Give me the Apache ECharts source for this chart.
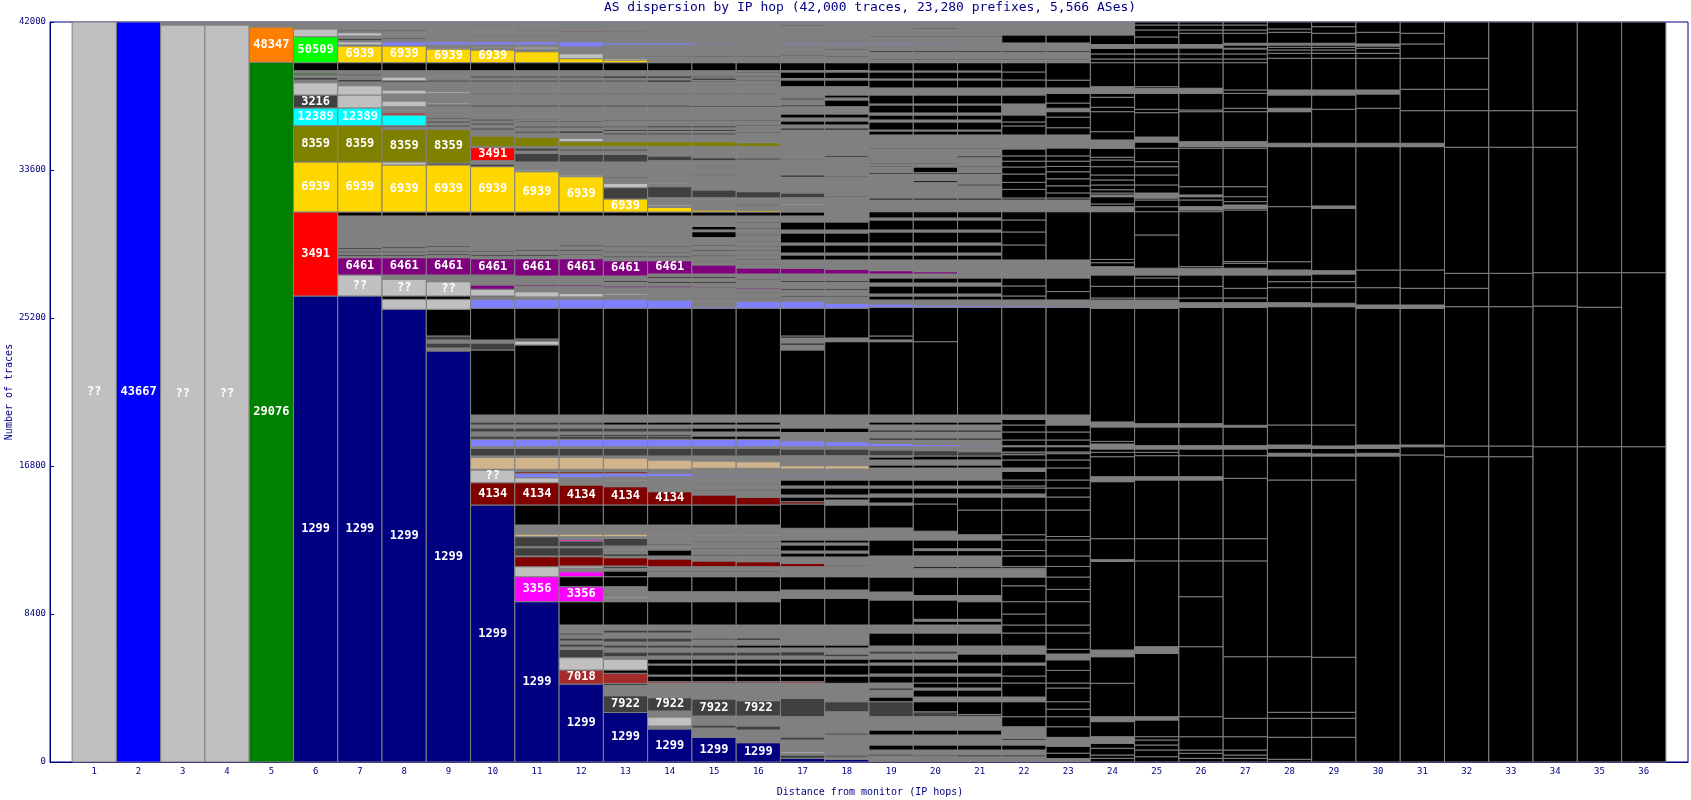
<!DOCTYPE html>
<html><head><meta charset="utf-8">
<script src="https://cdn.jsdelivr.net/npm/echarts@6/dist/echarts.min.js"></script>
<style>html,body{margin:0;padding:0;background:#fff}#c{width:1691px;height:800px}</style>
</head><body><div id="c"></div>
<script>
const palette = {L:'#c0c0c0',B:'#0000ff',G:'#008000',O:'#ff8000',LG:'#00ff00',K:'#000000',D:'#404040',C:'#00ffff',V:'#808000',Y:'#ffd700',R:'#ff0000',N:'#000080',P:'#800080',S:'#8080ff',T:'#d2b48c',M:'#800000',F:'#ff00ff',W:'#a52a2a',A:'#808080'};
const titleText = 'AS dispersion by IP hop (42,000 traces, 23,280 prefixes, 5,566 ASes)';
const xName = 'Distance from monitor (IP hops)';
const yName = 'Number of traces';
// each entry: [cumulative top (traces), colour key, label]
const hop01 = [[42000,'L','??']];
const hop02 = [[42000,'B','43667']];
const hop03 = [[41830,'L','??'],[42000,'A']];
const hop04 = [[41830,'L','??'],[42000,'A']];
const hop05 = [[39715,'G','29076'],[41720,'O','48347'],[42000,'A']];
const hop06 = [[26450,'N','1299'],[31218,'R','3491'],[34056,'Y','6939'],[36117,'V','8359'],[37121,'C','12389'],[37859,'D','3216'],[38557,'L'],[38700,'A'],[38850,'D'],[38950,'A'],[39050,'D'],[39130,'G'],[39238,'A'],[39692,'K'],[41168,'LG','50509'],[41605,'L'],[42000,'A']];
const hop07 = [[26450,'N','1299'],[27642,'L','??'],[28624,'P','6461'],[28700,'A'],[28800,'D'],[28900,'A'],[29000,'D'],[29100,'A'],[29200,'D'],[29762,'A'],[30991,'A'],[31218,'K'],[34056,'Y','6939'],[36117,'V','8359'],[37121,'C','12389'],[37859,'L'],[38387,'L'],[38600,'A'],[38750,'D'],[38950,'A'],[39050,'D'],[39238,'A'],[39692,'K'],[40640,'Y','6939'],[40700,'A'],[40880,'L'],[40941,'A'],[41076,'D'],[41208,'A'],[41395,'L'],[41452,'A'],[41548,'D'],[42000,'A']];
const hop08 = [[25695,'N','1299'],[26263,'L'],[26450,'K'],[27398,'L','??'],[27642,'A'],[28624,'P','6461'],[28700,'A'],[28800,'D'],[28900,'A'],[29000,'D'],[29150,'A'],[29250,'D'],[30991,'A'],[31218,'K'],[33886,'Y','6939'],[34056,'L'],[35912,'V','8359'],[36043,'A'],[36117,'D'],[36724,'C'],[36837,'R'],[36950,'A'],[37008,'L'],[37194,'A'],[37518,'L'],[37916,'A'],[38143,'L'],[38557,'A'],[38670,'D'],[38880,'L'],[39238,'A'],[39692,'K'],[40640,'Y','6939'],[40884,'S'],[41038,'A'],[41134,'D'],[41265,'A'],[41322,'L'],[41452,'A'],[41548,'D'],[42000,'A']];
const hop09 = [[23328,'N','1299'],[23499,'A'],[23782,'D'],[23953,'A'],[24180,'D'],[25695,'K'],[26263,'L'],[26450,'K'],[27262,'L','??'],[27642,'A'],[28624,'P','6461'],[28750,'A'],[28850,'D'],[28950,'A'],[29050,'D'],[29200,'A'],[29300,'D'],[30991,'A'],[31218,'K'],[33886,'Y','6939'],[33998,'D'],[35912,'V','8359'],[36043,'A'],[36157,'D'],[36270,'A'],[36384,'D'],[36497,'A'],[36582,'D'],[37194,'A'],[37291,'D'],[37348,'A'],[37422,'L'],[37955,'A'],[38046,'L'],[38597,'A'],[38710,'D'],[38880,'A'],[38937,'L'],[39238,'A'],[39692,'K'],[40470,'Y','6939'],[40527,'L'],[40698,'A'],[40884,'S'],[41265,'A'],[41293,'L'],[41548,'A'],[41577,'L'],[42000,'A']];
const hop10 = [[14587,'N','1299'],[15853,'M','4134'],[16574,'L','??'],[16614,'A'],[17295,'T'],[17369,'A'],[17806,'D'],[17896,'A'],[18316,'S'],[18504,'D'],[18731,'A'],[18958,'D'],[19128,'A'],[19298,'D'],[19696,'A'],[23385,'K'],[23782,'D'],[23953,'A'],[25752,'K'],[26263,'S'],[26393,'A'],[26450,'D'],[26831,'L'],[27074,'P'],[27585,'A'],[27642,'D'],[28567,'P','6461'],[28700,'A'],[28800,'D'],[28950,'A'],[29050,'D'],[29762,'A'],[30991,'A'],[31218,'K'],[33789,'Y','6939'],[33942,'D'],[34130,'A'],[34868,'R','3491'],[34925,'A'],[35532,'V'],[35872,'A'],[35986,'D'],[36157,'A'],[36270,'D'],[36384,'A'],[36497,'D'],[37178,'A'],[37291,'D'],[37916,'A'],[37973,'P'],[38597,'A'],[38710,'D'],[38823,'A'],[38937,'D'],[39238,'A'],[39692,'K'],[40413,'Y','6939'],[40527,'A'],[40584,'L'],[40698,'A'],[40884,'S'],[41208,'A'],[41265,'D'],[41492,'A'],[41548,'L'],[42000,'A']];
const hop11 = [[9099,'N','1299'],[10518,'F','3356'],[11085,'L'],[11653,'M'],[11693,'A'],[12164,'D'],[12220,'A'],[12788,'D'],[12941,'T'],[13452,'A'],[14587,'K'],[15853,'M','4134'],[16137,'L'],[16387,'S'],[16478,'M'],[16614,'A'],[17295,'T'],[17369,'A'],[17806,'D'],[17896,'A'],[18316,'S'],[18504,'D'],[18731,'A'],[18958,'D'],[19128,'A'],[19298,'D'],[19696,'A'],[23669,'K'],[23896,'L'],[24009,'D'],[25752,'K'],[26263,'S'],[26393,'A'],[26694,'L'],[27018,'A'],[27103,'P'],[27585,'A'],[28567,'P','6461'],[28700,'A'],[28800,'D'],[29000,'A'],[29100,'D'],[29762,'A'],[30991,'A'],[31218,'K'],[33505,'Y','6939'],[33601,'L'],[34056,'A'],[34549,'D'],[34680,'A'],[34850,'D'],[34925,'A'],[35458,'V'],[35700,'A'],[35815,'D'],[35990,'A'],[36100,'D'],[36300,'A'],[36384,'D'],[36440,'A'],[36497,'D'],[37178,'A'],[37291,'D'],[37916,'A'],[37973,'P'],[38597,'A'],[38710,'D'],[38823,'A'],[38937,'D'],[39238,'A'],[39692,'K'],[40317,'Y'],[40470,'A'],[40584,'L'],[40698,'A'],[40884,'S'],[41208,'A'],[41265,'D'],[41492,'A'],[41548,'D'],[42000,'A']];
const hop12 = [[4427,'N','1299'],[5222,'W','7018'],[5920,'L'],[6397,'D'],[6527,'A'],[6698,'D'],[6868,'A'],[7038,'D'],[7209,'A'],[7322,'D'],[7776,'A'],[9099,'K'],[9950,'F','3356'],[10518,'K'],[10802,'F'],[11011,'A'],[11125,'L'],[11653,'M'],[11693,'A'],[12164,'D'],[12220,'A'],[12543,'D'],[12640,'F'],[12788,'A'],[12941,'T'],[13452,'A'],[14587,'K'],[15722,'M','4134'],[16137,'A'],[16387,'S'],[16478,'M'],[16614,'A'],[17295,'T'],[17369,'A'],[17806,'D'],[17896,'A'],[18316,'S'],[18504,'D'],[18600,'K'],[18731,'A'],[18958,'D'],[19128,'A'],[19298,'D'],[19696,'A'],[25752,'K'],[26263,'S'],[26393,'A'],[26592,'L'],[27018,'A'],[27103,'P'],[27585,'A'],[28567,'P','6461'],[28777,'A'],[28834,'K'],[29000,'A'],[29100,'D'],[29250,'A'],[29350,'D'],[29762,'A'],[30991,'A'],[31218,'K'],[33221,'Y','6939'],[33317,'L'],[34056,'A'],[34493,'D'],[34680,'A'],[34794,'D'],[34925,'A'],[35209,'V'],[35401,'L'],[35700,'A'],[35815,'K'],[35990,'A'],[36100,'D'],[36300,'A'],[36384,'D'],[36497,'A'],[37178,'A'],[37291,'D'],[37916,'A'],[37973,'P'],[38597,'A'],[38710,'D'],[38823,'A'],[38937,'D'],[39238,'A'],[39692,'K'],[39919,'Y'],[40203,'L'],[40584,'A'],[40884,'S'],[41435,'A'],[41492,'M'],[42000,'A']];
const hop13 = [[2810,'N','1299'],[3763,'D','7922'],[3803,'L'],[4371,'A'],[4456,'K'],[5035,'W'],[5222,'K'],[5829,'L'],[5977,'A'],[6244,'D'],[6471,'A'],[6641,'D'],[6811,'A'],[7038,'D'],[7322,'A'],[7492,'D'],[7776,'A'],[9099,'K'],[9309,'A'],[9382,'L'],[9950,'A'],[10518,'K'],[10841,'K'],[11011,'A'],[11097,'K'],[11125,'A'],[11596,'M'],[11693,'A'],[11806,'K'],[12033,'A'],[12090,'L'],[12260,'A'],[12697,'D'],[12788,'A'],[12941,'T'],[13452,'A'],[14587,'K'],[15626,'M','4134'],[15949,'A'],[16006,'L'],[16177,'A'],[16387,'S'],[16478,'M'],[16614,'A'],[17255,'T'],[17369,'A'],[17806,'D'],[17896,'A'],[18316,'S'],[18504,'D'],[18600,'K'],[18731,'A'],[18958,'D'],[19128,'A'],[19298,'K'],[19696,'A'],[25752,'K'],[26263,'S'],[26507,'A'],[26603,'L'],[26921,'A'],[27018,'P'],[27245,'A'],[27330,'K'],[27585,'A'],[28453,'P','6461'],[28650,'A'],[28720,'K'],[28900,'A'],[29000,'D'],[29200,'A'],[29280,'K'],[29762,'A'],[30991,'A'],[31218,'K'],[31956,'Y','6939'],[32597,'D'],[32847,'L'],[33148,'A'],[33205,'K'],[34056,'A'],[34493,'D'],[34680,'A'],[34794,'D'],[34925,'A'],[35209,'V'],[35600,'A'],[35700,'K'],[35815,'A'],[35900,'K'],[36000,'A'],[36100,'D'],[36384,'A'],[36440,'K'],[37178,'A'],[37291,'D'],[37916,'A'],[37973,'P'],[38597,'A'],[38710,'D'],[38823,'A'],[38937,'K'],[39238,'A'],[39692,'K'],[39845,'Y'],[39942,'L'],[40033,'A'],[40090,'D'],[40698,'A'],[40828,'S'],[41452,'A'],[41509,'M'],[42000,'A']];
const hop14 = [[1873,'N','1299'],[2043,'A'],[2554,'L'],[2895,'A'],[3650,'D','7922'],[4467,'A'],[4558,'W'],[4881,'K'],[4938,'A'],[5506,'K'],[5562,'A'],[5846,'K'],[6017,'A'],[6244,'D'],[6471,'A'],[6641,'D'],[6811,'A'],[7038,'D'],[7322,'A'],[7492,'D'],[7776,'A'],[9099,'K'],[9666,'A'],[10518,'K'],[10784,'A'],[10841,'K'],[11085,'A'],[11522,'M'],[11693,'A'],[12033,'K'],[12146,'A'],[12203,'L'],[12316,'A'],[12374,'K'],[12884,'A'],[12941,'T'],[13452,'A'],[14587,'K'],[15342,'M','4134'],[16194,'A'],[16387,'S'],[16478,'A'],[16518,'M'],[16614,'A'],[17142,'T'],[17369,'A'],[17806,'D'],[17896,'A'],[18316,'S'],[18504,'D'],[18600,'K'],[18731,'A'],[18958,'D'],[19128,'A'],[19298,'K'],[19696,'A'],[25752,'K'],[26223,'S'],[26564,'A'],[26921,'A'],[27018,'P'],[27188,'A'],[27273,'K'],[27472,'A'],[27557,'K'],[27699,'A'],[28453,'P','6461'],[28650,'A'],[28720,'K'],[28900,'A'],[28960,'K'],[29200,'A'],[29280,'K'],[29762,'A'],[30991,'A'],[31218,'K'],[31485,'Y'],[31558,'A'],[31655,'L'],[32029,'A'],[32654,'D'],[32824,'A'],[32904,'L'],[34130,'A'],[34397,'D'],[34925,'A'],[35209,'V'],[35600,'A'],[35700,'K'],[35815,'A'],[35900,'K'],[36000,'A'],[36100,'K'],[36384,'A'],[36440,'K'],[37178,'A'],[37291,'D'],[37916,'A'],[37973,'P'],[38597,'A'],[38710,'K'],[38823,'A'],[38937,'K'],[39238,'A'],[39692,'K'],[40016,'A'],[40073,'D'],[40698,'A'],[40828,'S'],[42000,'A']];
const hop15 = [[1391,'N','1299'],[1930,'A'],[2100,'D'],[2611,'A'],[3576,'D','7922'],[4484,'A'],[4558,'M'],[4881,'K'],[4938,'A'],[5506,'K'],[5562,'A'],[5846,'K'],[6017,'A'],[6244,'D'],[6471,'A'],[6641,'D'],[6925,'A'],[7038,'D'],[7776,'A'],[9099,'K'],[9666,'A'],[10518,'K'],[10784,'A'],[10841,'K'],[11085,'A'],[11409,'M'],[11700,'A'],[11780,'K'],[12100,'A'],[12160,'K'],[12500,'A'],[12560,'K'],[12827,'A'],[12884,'T'],[13452,'A'],[14587,'K'],[15155,'M'],[15400,'A'],[15460,'K'],[15800,'A'],[15860,'K'],[16194,'A'],[16290,'S'],[16670,'A'],[17085,'T'],[17369,'A'],[17806,'D'],[17896,'A'],[18316,'S'],[18504,'K'],[18731,'A'],[18958,'K'],[19128,'A'],[19298,'K'],[19696,'A'],[25752,'K'],[25843,'S'],[26300,'A'],[26360,'K'],[26904,'A'],[26961,'P'],[27188,'A'],[27273,'K'],[27472,'A'],[27557,'K'],[27699,'A'],[28210,'P'],[28400,'A'],[28470,'K'],[28700,'A'],[28770,'K'],[29000,'A'],[29070,'K'],[29300,'A'],[29370,'K'],[29762,'A'],[30100,'K'],[30200,'A'],[30400,'K'],[30500,'A'],[30991,'A'],[31218,'K'],[31332,'Y'],[31899,'A'],[31956,'L'],[32029,'A'],[32467,'D'],[33300,'A'],[33360,'K'],[33800,'A'],[33860,'K'],[34130,'A'],[34300,'D'],[34925,'A'],[35209,'V'],[35600,'A'],[35700,'K'],[35815,'A'],[35900,'K'],[36000,'A'],[36100,'K'],[36384,'A'],[36440,'K'],[37178,'A'],[37250,'K'],[37916,'A'],[37973,'P'],[38597,'A'],[38650,'K'],[38710,'A'],[38823,'K'],[38880,'A'],[38937,'K'],[39238,'A'],[39692,'K'],[40016,'A'],[40073,'K'],[40698,'A'],[40790,'S'],[42000,'A']];
const hop16 = [[1095,'N','1299'],[1816,'A'],[2043,'D'],[2611,'A'],[3479,'D','7922'],[4484,'A'],[4558,'M'],[4881,'K'],[4938,'A'],[5506,'K'],[5562,'A'],[5846,'K'],[6017,'A'],[6244,'D'],[6471,'A'],[6641,'K'],[6925,'A'],[7038,'K'],[7776,'A'],[9099,'K'],[9666,'A'],[10518,'K'],[10784,'A'],[10841,'K'],[11085,'A'],[11369,'M'],[11700,'A'],[11780,'K'],[12100,'A'],[12160,'K'],[12500,'A'],[12560,'K'],[12827,'A'],[12884,'T'],[13452,'A'],[14587,'K'],[15024,'M'],[15400,'A'],[15460,'K'],[15800,'A'],[15860,'K'],[16194,'A'],[16290,'S'],[16670,'A'],[17045,'T'],[17369,'A'],[17806,'D'],[17896,'A'],[18316,'S'],[18504,'K'],[18731,'A'],[18958,'K'],[19128,'A'],[19298,'K'],[19696,'A'],[25752,'K'],[26137,'S'],[26300,'A'],[26360,'K'],[26600,'A'],[26660,'K'],[26850,'A'],[26922,'P'],[27100,'A'],[27160,'K'],[27350,'A'],[27410,'K'],[27699,'A'],[28039,'P'],[28250,'A'],[28310,'K'],[28500,'A'],[28560,'K'],[28750,'A'],[28810,'K'],[29000,'A'],[29060,'K'],[29250,'A'],[29310,'K'],[29550,'A'],[29610,'K'],[29900,'A'],[29960,'K'],[30250,'A'],[30310,'K'],[30600,'A'],[30660,'K'],[30991,'A'],[31218,'K'],[31303,'Y'],[31600,'A'],[31660,'K'],[31956,'A'],[32012,'L'],[32371,'D'],[33000,'A'],[33060,'K'],[33400,'A'],[33460,'K'],[33800,'A'],[33860,'K'],[34170,'A'],[34283,'D'],[34925,'A'],[35152,'V'],[35209,'L'],[35500,'A'],[35560,'K'],[35700,'A'],[35760,'K'],[35900,'A'],[35960,'K'],[36100,'A'],[36160,'K'],[36384,'A'],[36440,'K'],[37178,'A'],[37250,'K'],[37916,'A'],[37973,'P'],[38400,'A'],[38460,'K'],[38650,'A'],[38710,'K'],[38880,'A'],[38937,'K'],[39100,'A'],[39160,'K'],[39238,'A'],[39692,'K'],[40016,'A'],[40073,'K'],[40720,'A'],[40783,'S'],[42000,'A']];
const hop17 = [[210,'N'],[397,'D'],[494,'A'],[585,'L'],[1249,'A'],[1419,'D'],[1589,'A'],[2571,'A'],[3616,'D'],[4467,'A'],[4558,'W'],[4881,'K'],[4938,'A'],[5506,'K'],[5562,'A'],[5846,'K'],[6017,'A'],[6261,'D'],[6471,'A'],[6641,'K'],[7021,'A'],[7776,'A'],[9292,'K'],[9763,'A'],[10518,'K'],[11085,'A'],[11278,'M'],[11636,'A'],[11863,'K'],[11976,'A'],[12317,'K'],[12430,'A'],[12601,'K'],[13265,'A'],[14644,'K'],[14775,'M'],[15041,'K'],[15155,'A'],[15552,'K'],[15666,'A'],[16006,'K'],[16194,'A'],[16290,'S'],[16631,'A'],[16818,'T'],[17386,'A'],[17766,'D'],[17896,'A'],[18237,'S'],[18700,'A'],[18958,'K'],[19696,'A'],[23385,'K'],[23669,'A'],[23782,'K'],[24066,'A'],[24180,'K'],[25752,'K'],[26166,'S'],[26400,'A'],[26480,'K'],[26791,'A'],[26870,'K'],[27245,'A'],[27330,'K'],[27699,'A'],[28022,'P'],[28493,'A'],[28777,'K'],[28890,'A'],[29345,'K'],[29459,'A'],[30026,'K'],[30196,'A'],[30651,'K'],[30991,'A'],[31218,'K'],[31587,'A'],[31672,'L'],[32029,'A'],[32296,'D'],[33205,'A'],[33317,'K'],[34170,'A'],[34226,'D'],[34982,'A'],[35050,'L'],[35872,'A'],[35986,'K'],[36157,'A'],[36384,'K'],[36554,'A'],[36781,'K'],[37194,'A'],[37291,'K'],[37575,'A'],[37689,'D'],[38330,'A'],[38710,'K'],[38795,'A'],[39164,'K'],[39238,'A'],[39692,'K'],[40073,'A'],[40129,'K'],[40698,'A'],[40794,'S'],[41776,'A'],[41832,'K'],[42000,'A']];
const hop18 = [[153,'N'],[284,'A'],[397,'D'],[1533,'A'],[1646,'D'],[2100,'A'],[2855,'A'],[3423,'D'],[4467,'A'],[4881,'K'],[4938,'A'],[5506,'K'],[5562,'A'],[5846,'K'],[5977,'A'],[6130,'D'],[6471,'A'],[6641,'K'],[7776,'A'],[9292,'K'],[9763,'A'],[10518,'K'],[11125,'A'],[11182,'M'],[11636,'A'],[11863,'K'],[11976,'A'],[12317,'K'],[12430,'A'],[12601,'K'],[13265,'A'],[14587,'K'],[14871,'A'],[15041,'K'],[15155,'A'],[15552,'K'],[15666,'A'],[16006,'K'],[16194,'A'],[16290,'S'],[16631,'A'],[16818,'T'],[17386,'A'],[17766,'D'],[17896,'A'],[18180,'S'],[18700,'A'],[18958,'K'],[19696,'A'],[23857,'K'],[24066,'A'],[25752,'K'],[26036,'S'],[26400,'A'],[26480,'K'],[26791,'A'],[26870,'K'],[27245,'A'],[27330,'K'],[27699,'A'],[27965,'P'],[28493,'A'],[28777,'K'],[28890,'A'],[29345,'K'],[29459,'A'],[30026,'K'],[30196,'A'],[30651,'K'],[31558,'A'],[31587,'L'],[32050,'A'],[32126,'D'],[33221,'A'],[33300,'K'],[34339,'A'],[34420,'K'],[35872,'A'],[35986,'K'],[36157,'A'],[36384,'K'],[36554,'A'],[36781,'K'],[37194,'A'],[37575,'K'],[37689,'A'],[37859,'K'],[38330,'A'],[38710,'K'],[38795,'A'],[39164,'K'],[39249,'A'],[39692,'K'],[40016,'A'],[40073,'K'],[40413,'A'],[40470,'K'],[40698,'A'],[40794,'S'],[40953,'A'],[41010,'K'],[42000,'A']];
const hop19 = [[341,'A'],[454,'D'],[681,'A'],[965,'K'],[1533,'A'],[1816,'K'],[2571,'A'],[3423,'D'],[3689,'K'],[4087,'A'],[4200,'K'],[4484,'A'],[4881,'K'],[4995,'A'],[5506,'K'],[5619,'A'],[5846,'K'],[6130,'A'],[6300,'D'],[6584,'A'],[7322,'K'],[7776,'A'],[9195,'K'],[9649,'A'],[10500,'K'],[11693,'A'],[12601,'K'],[13282,'A'],[14587,'K'],[14701,'A'],[15041,'K'],[15212,'A'],[15552,'K'],[15666,'A'],[16006,'K'],[16687,'A'],[16858,'K'],[17142,'A'],[17312,'K'],[17386,'A'],[17709,'D'],[17896,'A'],[18089,'S'],[18277,'A'],[18390,'K'],[18731,'A'],[18844,'K'],[19128,'A'],[19298,'K'],[19696,'A'],[23857,'K'],[23953,'A'],[24180,'K'],[25809,'K'],[25996,'S'],[26223,'A'],[26450,'K'],[26564,'A'],[27018,'K'],[27188,'A'],[27472,'K'],[27699,'A'],[27887,'P'],[28493,'A'],[28777,'K'],[28890,'A'],[29345,'K'],[29459,'A'],[30083,'K'],[30196,'A'],[30764,'K'],[30878,'A'],[31235,'K'],[31899,'A'],[32012,'K'],[33374,'A'],[33460,'K'],[33772,'A'],[33829,'K'],[33942,'A'],[33998,'K'],[34794,'A'],[34850,'K'],[35589,'A'],[35816,'K'],[35872,'A'],[36327,'K'],[36440,'A'],[36724,'K'],[36837,'A'],[37291,'K'],[37348,'A'],[37859,'K'],[38257,'A'],[38710,'K'],[38767,'A'],[39164,'K'],[39220,'A'],[39692,'K'],[39845,'A'],[39902,'K'],[40300,'A'],[40385,'K'],[40698,'A'],[40794,'S'],[41151,'A'],[41208,'K'],[42000,'A']];
const hop20 = [[300,'A'],[400,'D'],[681,'A'],[965,'K'],[1533,'A'],[1816,'K'],[2571,'A'],[2850,'D'],[3423,'K'],[3689,'A'],[4087,'K'],[4200,'A'],[4484,'K'],[4881,'K'],[4995,'A'],[5506,'K'],[5619,'A'],[5846,'K'],[6130,'A'],[6300,'D'],[6584,'A'],[7322,'K'],[7776,'A'],[8000,'K'],[8100,'A'],[9195,'K'],[9450,'A'],[10500,'K'],[11000,'A'],[11100,'K'],[11693,'A'],[12000,'K'],[12100,'A'],[12601,'K'],[13100,'A'],[14644,'K'],[15041,'K'],[15212,'A'],[15552,'K'],[15666,'A'],[16006,'K'],[16687,'A'],[16858,'K'],[17142,'A'],[17369,'K'],[17670,'D'],[17896,'A'],[18032,'S'],[18277,'A'],[18390,'K'],[18731,'A'],[18844,'K'],[19128,'A'],[19298,'K'],[19696,'A'],[23857,'K'],[25809,'K'],[25938,'S'],[26223,'A'],[26450,'K'],[26564,'A'],[27018,'K'],[27188,'A'],[27472,'K'],[27699,'A'],[27830,'P'],[28493,'A'],[28777,'K'],[28890,'A'],[29345,'K'],[29459,'A'],[30083,'K'],[30196,'A'],[30764,'K'],[30878,'A'],[31235,'K'],[31899,'A'],[32012,'K'],[32900,'A'],[33000,'K'],[33374,'A'],[33460,'K'],[33772,'K'],[33942,'A'],[33998,'K'],[34794,'A'],[34850,'K'],[35589,'A'],[35816,'K'],[35872,'A'],[36327,'K'],[36440,'A'],[36724,'K'],[36837,'A'],[37291,'K'],[37348,'A'],[37859,'K'],[38257,'A'],[38710,'K'],[38767,'A'],[39164,'K'],[39220,'A'],[39692,'K'],[39845,'A'],[39902,'K'],[40300,'A'],[40385,'K'],[40698,'A'],[40760,'S'],[41151,'A'],[41208,'K'],[41600,'A'],[41660,'K'],[42000,'A']];
const hop21 = [[300,'A'],[400,'K'],[681,'A'],[965,'K'],[1533,'A'],[1816,'K'],[2571,'A'],[2700,'D'],[3423,'K'],[3689,'A'],[4087,'K'],[4200,'A'],[4484,'K'],[4881,'K'],[4995,'A'],[5506,'K'],[5619,'A'],[6130,'K'],[6584,'A'],[7322,'K'],[7776,'A'],[8000,'K'],[8100,'A'],[9100,'K'],[9450,'A'],[10500,'K'],[11000,'A'],[11100,'K'],[11693,'A'],[12000,'K'],[12100,'A'],[12601,'K'],[12900,'A'],[14300,'K'],[15041,'K'],[15212,'A'],[15552,'K'],[15666,'A'],[16006,'K'],[16687,'A'],[16858,'K'],[17142,'A'],[17369,'K'],[17614,'D'],[17896,'A'],[17975,'S'],[18277,'A'],[18390,'K'],[18731,'A'],[18844,'K'],[19128,'A'],[19298,'K'],[19696,'A'],[25809,'K'],[25910,'S'],[26223,'A'],[26450,'K'],[26564,'A'],[27018,'K'],[27188,'A'],[27472,'K'],[27887,'A'],[28493,'A'],[28777,'K'],[28890,'A'],[29345,'K'],[29459,'A'],[30083,'K'],[30196,'A'],[30764,'K'],[30878,'A'],[31235,'K'],[31899,'A'],[32012,'K'],[32700,'A'],[32800,'K'],[33374,'A'],[33460,'K'],[33772,'A'],[33829,'K'],[34300,'A'],[34400,'K'],[34794,'A'],[34850,'K'],[35589,'A'],[35816,'K'],[35872,'A'],[36327,'K'],[36440,'A'],[36724,'K'],[36837,'A'],[37291,'K'],[37348,'A'],[37859,'K'],[38257,'A'],[38710,'K'],[38767,'A'],[39164,'K'],[39220,'A'],[39692,'K'],[39845,'A'],[39902,'K'],[40300,'A'],[40385,'K'],[40794,'A'],[41151,'A'],[41208,'K'],[42000,'A']];
const hop22 = [[300,'A'],[400,'K'],[681,'A'],[965,'K'],[1250,'A'],[1350,'K'],[2000,'A'],[2571,'K'],[3423,'K'],[3689,'A'],[4484,'K'],[4881,'K'],[5506,'K'],[5619,'A'],[6130,'K'],[6584,'A'],[7322,'K'],[7776,'K'],[8400,'K'],[9100,'K'],[10000,'K'],[10500,'K'],[11000,'A'],[11100,'K'],[11693,'K'],[12000,'K'],[12601,'K'],[12900,'K'],[14300,'K'],[15041,'K'],[15212,'A'],[15552,'K'],[15666,'K'],[16006,'K'],[16500,'K'],[16687,'A'],[17142,'K'],[17442,'K'],[17596,'D'],[17896,'K'],[17950,'S'],[18277,'K'],[18731,'K'],[19128,'K'],[19450,'K'],[19696,'A'],[25809,'K'],[25900,'S'],[26223,'A'],[26450,'K'],[27018,'K'],[27472,'K'],[27887,'A'],[28493,'A'],[29345,'K'],[30083,'K'],[30764,'K'],[31235,'K'],[31899,'A'],[32012,'K'],[32500,'K'],[32900,'K'],[33374,'K'],[33772,'K'],[34100,'K'],[34400,'K'],[34794,'K'],[34900,'A'],[35589,'A'],[36100,'K'],[36327,'K'],[36724,'K'],[37100,'A'],[37348,'A'],[37859,'K'],[38257,'A'],[38710,'K'],[39164,'K'],[39692,'K'],[39845,'A'],[39902,'K'],[40300,'A'],[40385,'K'],[40811,'A'],[41265,'K'],[41600,'A'],[42000,'A']];
const hop23 = [[200,'A'],[500,'K'],[900,'K'],[1400,'A'],[2000,'K'],[2571,'K'],[3000,'K'],[3423,'K'],[4200,'K'],[4484,'K'],[5200,'K'],[5800,'K'],[6130,'A'],[6400,'K'],[7322,'K'],[7776,'K'],[9100,'K'],[9800,'K'],[10500,'K'],[11100,'K'],[11693,'K'],[12601,'K'],[12800,'K'],[14300,'K'],[15041,'K'],[15552,'K'],[16006,'K'],[16687,'K'],[17142,'K'],[17500,'K'],[17600,'D'],[17896,'K'],[17950,'S'],[18277,'K'],[18731,'K'],[19128,'K'],[19300,'A'],[19696,'A'],[25809,'K'],[25880,'S'],[26223,'A'],[26700,'K'],[27472,'K'],[27700,'A'],[28493,'A'],[31235,'K'],[31899,'A'],[32012,'K'],[32300,'K'],[32700,'K'],[33100,'K'],[33500,'K'],[33800,'K'],[34100,'K'],[34400,'K'],[34850,'K'],[35589,'A'],[36000,'K'],[36600,'K'],[36911,'K'],[37103,'A'],[37400,'K'],[37954,'K'],[38257,'A'],[38700,'K'],[39692,'K'],[39845,'A'],[39902,'K'],[40300,'A'],[40385,'K'],[40811,'A'],[41265,'K'],[41600,'A'],[42000,'A']];
const hop24 = [[210,'K'],[397,'K'],[778,'K'],[1060,'K'],[1436,'A'],[2292,'K'],[2571,'A'],[4467,'K'],[5977,'K'],[6357,'A'],[11390,'K'],[11485,'A'],[12677,'K'],[15911,'K'],[16195,'A'],[17329,'K'],[17577,'K'],[17766,'K'],[18050,'A'],[18197,'K'],[19015,'K'],[19300,'A'],[25752,'K'],[26223,'A'],[26336,'K'],[26999,'K'],[27642,'K'],[28113,'A'],[28340,'K'],[28524,'K'],[31235,'K'],[31519,'A'],[31672,'K'],[32086,'K'],[32183,'A'],[32292,'K'],[32480,'K'],[32751,'K'],[33034,'K'],[33318,'K'],[33789,'K'],[34170,'K'],[34323,'K'],[34834,'K'],[35306,'A'],[35776,'K'],[36911,'K'],[37161,'K'],[37728,'K'],[37954,'K'],[38330,'A'],[39692,'K'],[39902,'K'],[40186,'K'],[40510,'K'],[40720,'A'],[41265,'K'],[41548,'A'],[41832,'A'],[42000,'A']];
const hop25 = [[301,'K'],[681,'K'],[965,'K'],[1249,'K'],[1436,'K'],[2384,'K'],[2571,'A'],[6165,'K'],[6544,'A'],[11415,'K'],[12677,'K'],[16006,'K'],[16195,'A'],[17386,'K'],[17577,'K'],[17766,'K'],[17955,'A'],[19015,'K'],[19204,'A'],[25752,'K'],[26223,'A'],[26336,'K'],[26999,'K'],[27472,'K'],[27642,'K'],[28022,'A'],[29913,'K'],[31235,'K'],[31519,'K'],[31899,'K'],[32008,'K'],[32292,'A'],[32751,'K'],[33318,'K'],[33789,'K'],[34073,'K'],[34834,'K'],[35186,'K'],[35470,'A'],[36854,'K'],[37046,'K'],[37954,'K'],[38239,'A'],[38330,'K'],[39692,'K'],[39902,'K'],[40186,'K'],[40527,'K'],[40720,'A'],[41151,'K'],[41548,'K'],[41832,'K'],[42000,'K']];
const hop26 = [[210,'K'],[494,'K'],[681,'K'],[1436,'K'],[2571,'K'],[6544,'K'],[9382,'K'],[11415,'K'],[12677,'K'],[16006,'K'],[16195,'A'],[17386,'K'],[17766,'K'],[17955,'A'],[19015,'K'],[19204,'A'],[25809,'K'],[26069,'A'],[26336,'K'],[26999,'K'],[27642,'K'],[28022,'A'],[28117,'K'],[31235,'K'],[31332,'K'],[31519,'A'],[31899,'K'],[32086,'K'],[32183,'A'],[32654,'K'],[34834,'K'],[34925,'K'],[35209,'A'],[36911,'K'],[37007,'K'],[37954,'K'],[38239,'A'],[39692,'K'],[39902,'K'],[40186,'K'],[40527,'K'],[40720,'A'],[41360,'K'],[41548,'K'],[41832,'K'],[42000,'K']];
const hop27 = [[210,'K'],[397,'K'],[681,'K'],[1436,'K'],[2480,'K'],[5977,'K'],[11415,'K'],[12677,'K'],[16101,'K'],[17386,'K'],[17766,'K'],[17955,'A'],[19015,'K'],[19109,'A'],[25809,'K'],[26069,'A'],[26336,'K'],[26886,'K'],[27642,'K'],[28022,'A'],[28306,'K'],[28400,'K'],[31332,'K'],[31427,'K'],[31615,'A'],[31805,'K'],[32088,'K'],[32654,'K'],[34834,'K'],[34925,'K'],[35209,'A'],[36911,'K'],[37103,'K'],[37954,'K'],[38143,'K'],[39692,'K'],[39902,'K'],[40186,'K'],[40470,'K'],[40510,'K'],[40698,'K'],[40794,'A'],[41360,'K'],[41548,'K'],[41832,'K'],[42000,'K']];
const hop28 = [[153,'K'],[1402,'K'],[2480,'K'],[2821,'K'],[5977,'K'],[16006,'K'],[17369,'K'],[17522,'A'],[17806,'K'],[17993,'A'],[19128,'K'],[25843,'K'],[26069,'A'],[26922,'K'],[27262,'K'],[27642,'K'],[27926,'A'],[28397,'K'],[31521,'K'],[34925,'K'],[35118,'A'],[36911,'K'],[37103,'A'],[37859,'K'],[38143,'A'],[39942,'K'],[40225,'K'],[40413,'K'],[40566,'K'],[40698,'K'],[40794,'A'],[41417,'K'],[41605,'K'],[42000,'K']];
const hop29 = [[1402,'K'],[2480,'K'],[2821,'K'],[5943,'K'],[16006,'K'],[17369,'K'],[17482,'A'],[17806,'K'],[17936,'A'],[19128,'K'],[25843,'K'],[26036,'A'],[26922,'K'],[27262,'K'],[27699,'K'],[27887,'A'],[31427,'K'],[31558,'A'],[34925,'K'],[35118,'A'],[37046,'K'],[37859,'K'],[38143,'A'],[39942,'K'],[40225,'K'],[40413,'K'],[40566,'K'],[40698,'K'],[40794,'A'],[41360,'K'],[41735,'K'],[42000,'K']];
const hop30 = [[17369,'K'],[17522,'A'],[17806,'K'],[17993,'A'],[25752,'K'],[25938,'A'],[26922,'K'],[27926,'K'],[34925,'K'],[35118,'A'],[37103,'K'],[37916,'K'],[38143,'A'],[39942,'K'],[40225,'K'],[40509,'K'],[40640,'K'],[40754,'A'],[41417,'K'],[42000,'K']];
const hop31 = [[17425,'K'],[17896,'K'],[17993,'A'],[25752,'K'],[25938,'A'],[26886,'K'],[27926,'K'],[34925,'K'],[35118,'A'],[36968,'K'],[38183,'K'],[39942,'K'],[40754,'K'],[41360,'K'],[42000,'K']];
const hop32 = [[17329,'K'],[17936,'K'],[25843,'K'],[26886,'K'],[27736,'K'],[34890,'K'],[36968,'K'],[38183,'K'],[39942,'K'],[42000,'K']];
const hop33 = [[17329,'K'],[17936,'K'],[25843,'K'],[27736,'K'],[34890,'K'],[36968,'K'],[42000,'K']];
const hop34 = [[17896,'K'],[25880,'K'],[27773,'K'],[34890,'K'],[36968,'K'],[42000,'K']];
const hop35 = [[17896,'K'],[25809,'K'],[27773,'K'],[42000,'K']];
const hop36 = [[17896,'K'],[27773,'K'],[42000,'K']];

const hops = [hop01,hop02,hop03,hop04,hop05,hop06,hop07,hop08,hop09,hop10,hop11,hop12,hop13,hop14,hop15,hop16,hop17,hop18,hop19,hop20,hop21,hop22,hop23,hop24,hop25,hop26,hop27,hop28,hop29,hop30,hop31,hop32,hop33,hop34,hop35,hop36];

const segs = [];
hops.forEach((h, i) => {
  let b = 0;
  h.forEach(s => { segs.push([i + 1, b, s[0], s[1], s[2] || '']); b = s[0]; });
});

function renderItem(params, api) {
  const s = segs[params.dataIndex];
  const p0 = api.coord([s[0] - 0.5, s[2]]);
  const p1 = api.coord([s[0] + 0.5, s[1]]);
  const el = {
    type: 'rect',
    shape: { x: p0[0], y: p0[1], width: p1[0] - p0[0], height: p1[1] - p0[1] },
    style: { fill: palette[s[3]], stroke: '#808080', lineWidth: 1 }
  };
  if (s[4]) {
    el.textContent = { style: { text: s[4], fill: '#ffffff', font: 'bold 12px "DejaVu Sans Mono"' } };
    el.textConfig = { position: 'inside' };
  }
  return el;
}

const chart = echarts.init(document.getElementById('c'), null, { renderer: 'canvas' });
chart.setOption({
  animation: false,
  grid: { left: 50, right: 1, top: 22, bottom: 38, show: true, borderColor: '#000080', borderWidth: 1, backgroundColor: 'transparent' },
  xAxis: {
    type: 'value', min: 0, max: 37, interval: 1,
    axisLine: { show: true, lineStyle: { color: '#000080' } },
    axisTick: { show: false }, splitLine: { show: false },
    axisLabel: { color: '#000080', fontFamily: 'DejaVu Sans Mono', fontSize: 9, margin: 5,
      formatter: v => (v >= 1 && v <= 36) ? String(v) : '' }
  },
  yAxis: {
    type: 'value', min: 0, max: 42000, interval: 8400,
    axisLine: { show: true, lineStyle: { color: '#000080' } },
    axisTick: { show: true, inside: true, length: 4, lineStyle: { color: '#000080' } },
    splitLine: { show: false },
    axisLabel: { color: '#000080', fontFamily: 'DejaVu Sans Mono', fontSize: 9, margin: 4, formatter: v => String(v) }
  },
  graphic: [
    { type: 'text', x: 870, y: 8, style: { text: titleText, fill: '#000080', font: '13px "DejaVu Sans Mono"', align: 'center', verticalAlign: 'middle' } },
    { type: 'text', x: 870, y: 792, style: { text: xName, fill: '#000080', font: '10px "DejaVu Sans Mono"', align: 'center', verticalAlign: 'middle' } },
    { type: 'text', x: 9, y: 392, rotation: Math.PI / 2, style: { text: yName, fill: '#000080', font: '10px "DejaVu Sans Mono"', align: 'center', verticalAlign: 'middle' } }
  ],
  series: [{ type: 'custom', renderItem: renderItem, data: segs.map(s => [s[0], s[1], s[2]]), encode: { x: 0, y: [1, 2] }, clip: false, silent: true }]
});
</script>
</body></html>
